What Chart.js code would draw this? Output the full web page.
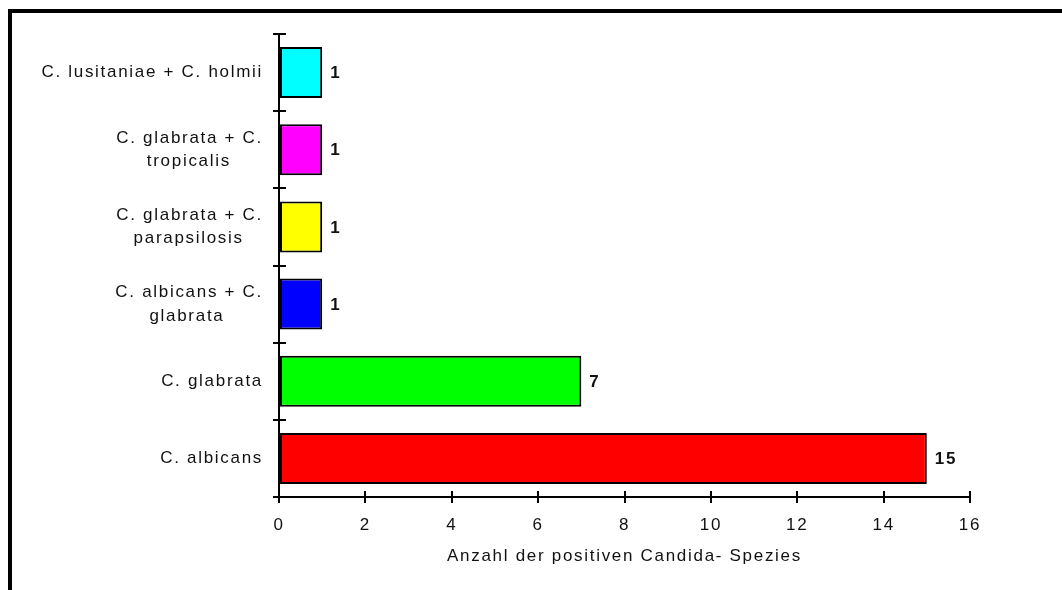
<!DOCTYPE html>
<html>
<head>
<meta charset="utf-8">
<script src="https://cdn.jsdelivr.net/npm/chart.js@4/dist/chart.umd.min.js"></script>
<style>
  html, body { margin: 0; padding: 0; background: #fff; overflow: hidden; }
  #frame {
    position: absolute; left: 8px; top: 9px; width: 1200px; height: 800px;
    border-left: 4px solid #000; border-top: 4px solid #000;
  }
  #chart { position: absolute; left: 0; top: 0; }
</style>
</head>
<body>
<div id="frame"></div>
<canvas id="chart" width="1062" height="590"></canvas>
<script>
  // categories, top to bottom
  const categories = [
    ["C. lusitaniae + C. holmii"],
    ["C. glabrata + C.", "tropicalis"],
    ["C. glabrata + C.", "parapsilosis"],
    ["C. albicans + C.", "glabrata"],
    ["C. glabrata"],
    ["C. albicans"],
  ];
  const counts = [1, 1, 1, 1, 7, 15];
  const barColors = ["#00ffff", "#ff00ff", "#ffff00", "#0000ff", "#00ff00", "#ff0000"];
  const xTitle = "Anzahl der positiven Candida- Spezies";
  const xMin = 0;
  const xMax = 16;
  const xStep = 2;

  const FONT = '"Liberation Sans", Arial, sans-serif';
  const SIZE = 17;
  const LS = "1.7px";

  // excel style: lines of one label centred against each other
  const measure = document.createElement("canvas").getContext("2d");
  function centerLines(lines) {
    if (!Array.isArray(lines) || lines.length < 2) return lines;
    measure.font = SIZE + "px " + FONT;
    measure.letterSpacing = LS;
    const widths = lines.map((l) => measure.measureText(l).width);
    const max = Math.max(...widths);
    const sp = measure.measureText(" ").width;
    return lines.map((l, i) => l + " ".repeat(Math.round((max - widths[i]) / 2 / sp)));
  }

  const spacing = {
    id: "spacing",
    beforeUpdate(chart) { chart.ctx.letterSpacing = LS; },
    beforeLayout(chart) { chart.ctx.letterSpacing = LS; },
    beforeDraw(chart) { chart.ctx.letterSpacing = LS; },
  };

  // tick marks crossing the axes (inner half)
  const innerTicks = {
    id: "innerTicks",
    afterDraw(chart) {
      const ctx = chart.ctx;
      const area = chart.chartArea;
      const x = chart.scales.x;
      const y = chart.scales.y;
      ctx.save();
      ctx.strokeStyle = "#000";
      ctx.lineWidth = 2;
      ctx.beginPath();
      x.ticks.forEach((t) => {
        const px = Math.round(x.getPixelForValue(t.value));
        ctx.moveTo(px, area.bottom);
        ctx.lineTo(px, area.bottom - 6);
      });
      for (let i = 0; i <= categories.length; i++) {
        const py = Math.round(y.getPixelForValue(i - 0.5));
        ctx.moveTo(area.left, py);
        ctx.lineTo(area.left + 7, py);
      }
      ctx.stroke();
      ctx.restore();
    },
  };

  const valueLabels = {
    id: "valueLabels",
    afterDatasetsDraw(chart) {
      const ctx = chart.ctx;
      const meta = chart.getDatasetMeta(0);
      ctx.save();
      ctx.letterSpacing = LS;
      ctx.font = "bold " + SIZE + "px " + FONT;
      ctx.fillStyle = "#111";
      ctx.textAlign = "left";
      ctx.textBaseline = "middle";
      meta.data.forEach((bar, i) => {
        ctx.fillText(String(counts[i]), bar.x + 8, bar.y + 1);
      });
      ctx.restore();
    },
  };

  new Chart(document.getElementById("chart"), {
    type: "bar",
    data: {
      labels: categories,
      datasets: [
        {
          data: counts,
          backgroundColor: barColors,
          borderColor: "#000",
          borderWidth: 2,
          borderSkipped: false,
          categoryPercentage: 1,
          barPercentage: 0.66,
        },
      ],
    },
    options: {
      indexAxis: "y",
      responsive: false,
      animation: false,
      devicePixelRatio: 1,
      layout: { padding: { left: 0, top: 34, right: 92, bottom: 20 } },
      plugins: {
        legend: { display: false },
        tooltip: { enabled: false },
      },
      scales: {
        x: {
          min: xMin,
          max: xMax,
          afterFit: (scale) => { scale.height = 73; },
          border: { color: "#000", width: 2 },
          grid: { drawOnChartArea: false, color: "#000", lineWidth: 2, tickLength: 6 },
          ticks: {
            stepSize: xStep,
            padding: 12,
            color: "#111",
            font: { family: FONT, size: SIZE, lineHeight: 1.2 },
          },
          title: {
            display: true,
            text: xTitle,
            color: "#111",
            padding: { top: 0, bottom: 3 },
            font: { family: FONT, size: SIZE, lineHeight: 1.2 },
          },
        },
        y: {
          afterFit: (scale) => { scale.width = 279; },
          border: { color: "#000", width: 2 },
          grid: { drawOnChartArea: false, color: "#000", lineWidth: 2, tickLength: 6, offset: true },
          ticks: {
            padding: 10,
            color: "#111",
            font: { family: FONT, size: SIZE, lineHeight: 1.38 },
            callback: function (value) {
              return centerLines(this.getLabelForValue(value));
            },
          },
        },
      },
    },
    plugins: [spacing, innerTicks, valueLabels],
  });
</script>
</body>
</html>
